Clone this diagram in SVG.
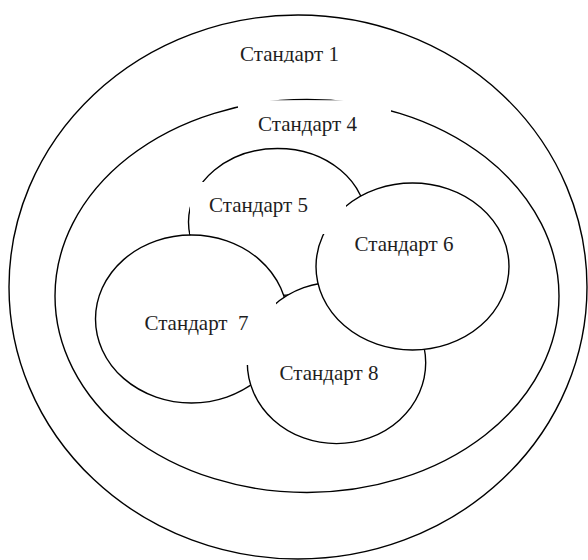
<svg xmlns="http://www.w3.org/2000/svg" width="588" height="560" viewBox="0 0 588 560">
<style>
.fill{fill:#fff;stroke:none}
.line{fill:none;stroke:#000;stroke-width:1.4}
text{font-family:"Liberation Serif","Times New Roman",serif;font-size:21px;fill:#1e1e1e;text-anchor:middle}
</style>
<defs>
<clipPath id="k1"><rect x="0" y="0" width="588" height="62.5"/></clipPath>
<clipPath id="k4"><path clip-rule="evenodd" d="M0 0H588V560H0Z M238 100.2H391V140H238Z"/></clipPath>
<clipPath id="k5"><path clip-rule="evenodd" d="M0 0H588V560H0Z M190 182H346V234H190Z"/></clipPath>
<clipPath id="k7"><path clip-rule="evenodd" d="M0 0H588V560H0Z M140 300H276V365H140Z"/></clipPath>
</defs>
<rect width="588" height="560" fill="#fff"/>
<g id="standard-1">
<ellipse class="fill" cx="298" cy="287" rx="289" ry="272"/>
<ellipse class="line" cx="298" cy="287" rx="289" ry="272"/>
<text x="289.5" y="61" clip-path="url(#k1)">Стандарт 1</text>
</g>
<g id="standard-4">
<ellipse class="fill" cx="307" cy="296" rx="252" ry="196.5"/>
<ellipse class="line" cx="307" cy="296" rx="252" ry="196.5" clip-path="url(#k4)"/>
<text x="307.5" y="131">Стандарт 4</text>
</g>
<g id="standard-5">
<ellipse class="fill" cx="277.5" cy="222" rx="89" ry="73.5"/>
<ellipse class="line" cx="277.5" cy="222" rx="89" ry="73.5" clip-path="url(#k5)"/>
<text x="258.5" y="212">Стандарт 5</text>
</g>
<g id="standard-7">
<ellipse class="fill" cx="191.5" cy="319" rx="96" ry="84"/>
<ellipse class="line" cx="191.5" cy="319" rx="96" ry="84"/>
<text x="196.5" y="330" xml:space="preserve">Стандарт  7</text>
</g>
<g id="standard-8">
<ellipse class="fill" cx="336.5" cy="362.8" rx="89.2" ry="80.8"/>
<ellipse class="line" cx="336.5" cy="362.8" rx="89.2" ry="80.8" clip-path="url(#k7)"/>
<text x="329" y="380">Стандарт 8</text>
</g>
<g id="standard-6">
<ellipse class="fill" cx="412.5" cy="266.5" rx="96.5" ry="83.5"/>
<ellipse class="line" cx="412.5" cy="266.5" rx="96.5" ry="83.5" clip-path="url(#k5)"/>
<text x="404" y="251">Стандарт 6</text>
</g>
</svg>
